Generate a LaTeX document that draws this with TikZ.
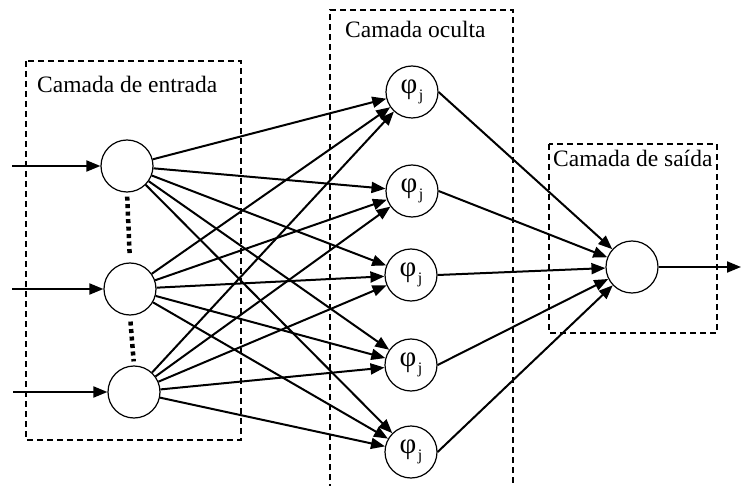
\documentclass[tikz,border=0pt]{standalone}
\usepackage{fontspec}
\setmainfont{Liberation Serif}
\usetikzlibrary{arrows.meta}
\tikzset{
 neuron/.style={circle,draw,line width=1.2pt,minimum size=52pt,inner sep=0pt},
 layerbox/.style={draw,line width=1.1pt,dash pattern=on 6pt off 4pt},
 conn/.style={line width=2pt,-{Triangle[length=14pt,width=11pt]}},
 title/.style={anchor=base west,inner sep=0pt,font=\fontsize{23.5}{28}\selectfont},
 dotline/.style={line width=4.5pt,dash pattern=on 4pt off 3.5pt},
}
\newcommand{\phijlabel}{{\fontsize{29}{29}\selectfont φ\kern1.5pt\raisebox{-7pt}{\fontsize{16}{16}\selectfont j}}}
\begin{document}
\begin{tikzpicture}[x=1pt,y=-1pt]
\useasboundingbox (0,0) rectangle (741,486);
% layer boxes
\draw[layerbox] (26,61) rectangle (241,440);
\draw[layerbox] (330,490) -- (330,10) -- (513,10) -- (513,490);
\draw[layerbox] (549,144) rectangle (717,333);
\node[title] (t1) at (37,93) {Camada de entrada};
\node[title] (t2) at (345,38) {Camada oculta};
\node[title] (t3) at (553,167) {Camada de saída};
% input neurons
\node[neuron] (i1) at (127,166) {};
\node[neuron] (i2) at (130,289) {};
\node[neuron] (i3) at (134,392) {};
% hidden neurons
\node[neuron] (h1) at (412,92) {\phijlabel};
\node[neuron] (h2) at (412,191) {\phijlabel};
\node[neuron] (h3) at (411,275) {\phijlabel};
\node[neuron] (h4) at (411,365) {\phijlabel};
\node[neuron] (h5) at (411,452) {\phijlabel};
% output neuron
\node[neuron] (o) at (632,267) {};
% dotted links
\draw[dotline,shorten <=4pt,shorten >=6pt] (i1.south) -- (i2.north);
\draw[dotline,shorten <=6pt,shorten >=4pt] (i2.south) -- (i3.north);
% input arrows
\coordinate (s1) at (12,166);
\coordinate (s2) at (12,289);
\coordinate (s3) at (13,392);
\draw[conn] (s1) -- (i1);
\draw[conn] (s2) -- (i2);
\draw[conn] (s3) -- (i3);
% input to hidden
\foreach \a in {1,2,3}{
  \foreach \b in {1,...,5}{
    \draw[conn] (i\a) -- (h\b);
  }
}
% hidden to output
\foreach \b in {1,...,5}{
  \draw[conn] (h\b.east) -- (o);
}
% output arrow
\coordinate (e) at (741,267);
\draw[conn] (o) -- (e);
\end{tikzpicture}
\end{document}
